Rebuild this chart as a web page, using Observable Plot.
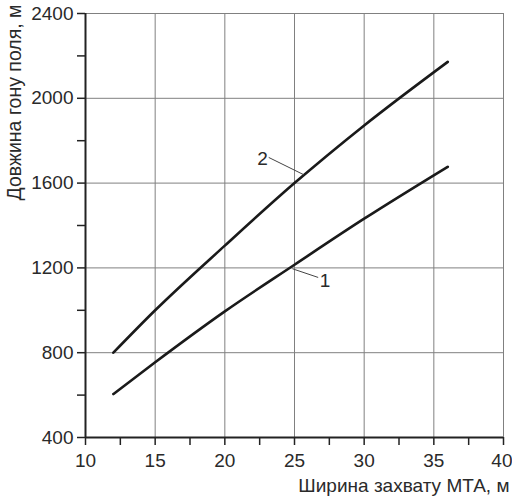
<!DOCTYPE html>
<html>
<head>
<meta charset="utf-8">
<script src="https://cdn.jsdelivr.net/npm/d3@7"></script>
<script src="https://cdn.jsdelivr.net/npm/@observablehq/plot@0.6"></script>
<style>
  html, body { margin: 0; padding: 0; background: #fff; }
</style>
</head>
<body>
<div id="chart"></div>
<script>
// Curve 1
const x1 = [12, 15, 20, 25, 30, 36];
const y1 = [605, 755, 995, 1215, 1432, 1677];
// Curve 2
const x2 = [12, 15, 20, 25, 30, 36];
const y2 = [800, 1000, 1305, 1600, 1872, 2172];

// Curve labels and their leader lines
const labelText = ["1", "2"];
const labelX = [27.2, 22.7];
const labelY = [1140, 1716];
const leadX1 = [24.85, 25.65];
const leadY1 = [1196, 1640];
const leadX2 = [26.7, 23.15];
const leadY2 = [1155, 1721];

// Ticks
const xTicks = d3.range(10, 40.01, 2.5);
const yTicks = d3.range(400, 2400.01, 200);
const xLastTick = [40];
const xGrid = [15, 20, 25, 30, 35, 40];
const yGrid = [800, 1200, 1600, 2000, 2400];

const xLabel = "Ширина захвату МТА, м";
const yLabel = "Довжина гону поля, м";

const curves = [
  ...x1.map((x, i) => ({x, y: y1[i], s: "1"})),
  ...x2.map((x, i) => ({x, y: y2[i], s: "2"}))
];
const labels = labelText.map((t, i) => ({t, x: labelX[i], y: labelY[i]}));
const leaders = leadX1.map((x, i) => ({x1: x, y1: leadY1[i], x2: leadX2[i], y2: leadY2[i]}));

const FS = 19;
const chart = Plot.plot({
  width: 512,
  height: 498,
  marginLeft: 85,
  marginRight: 9,
  marginTop: 13,
  marginBottom: 61,
  style: {fontFamily: "'Liberation Sans', Arial, sans-serif", fontSize: FS + "px", color: "#2a2a2a", background: "#fff"},
  x: {domain: [10, 40]},
  y: {domain: [400, 2400]},
  marks: [
    Plot.gridX(xGrid, {stroke: "#808080", strokeOpacity: 1, strokeWidth: 1}),
    Plot.gridY(yGrid, {stroke: "#808080", strokeOpacity: 1, strokeWidth: 1}),
    Plot.axisX({ticks: xTicks, tickSize: 8, tickPadding: 8, tickFormat: d => (d % 5 === 0 && d < 40) ? String(d) : "", label: null, fontSize: FS, stroke: "#222", strokeWidth: 1.5}),
    Plot.text(xLastTick, {x: d => d, frameAnchor: "bottom", lineAnchor: "top", textAnchor: "end", dx: 9, dy: 16, text: d => String(d), fontSize: FS, fill: "#2a2a2a"}),
    Plot.axisY({ticks: yTicks, tickSize: 8, tickPadding: 4, tickFormat: d => d % 400 === 0 ? String(d) : "", label: null, fontSize: FS, stroke: "#222", strokeWidth: 1.5}),
    Plot.ruleX([10], {stroke: "#222", strokeWidth: 2}),
    Plot.ruleY([400], {stroke: "#222", strokeWidth: 2}),
    Plot.line(curves, {x: "x", y: "y", z: "s", curve: "monotone-x", stroke: "#1a1a1a", strokeWidth: 2.6}),
    Plot.link(leaders, {x1: "x1", y1: "y1", x2: "x2", y2: "y2", stroke: "#444", strokeWidth: 1}),
    Plot.text(labels, {x: "x", y: "y", text: "t", fontSize: FS, fill: "#2a2a2a"}),
    Plot.text([xLabel], {frameAnchor: "bottom-right", textAnchor: "end", lineAnchor: "middle", dx: 6, dy: 48, fontSize: FS, fill: "#2a2a2a"}),
    Plot.text([yLabel], {frameAnchor: "top-left", textAnchor: "end", lineAnchor: "middle", rotate: -90, dx: -71, dy: -9, fontSize: 19.5, fill: "#2a2a2a"})
  ]
});
document.getElementById("chart").appendChild(chart);
</script>
</body>
</html>
